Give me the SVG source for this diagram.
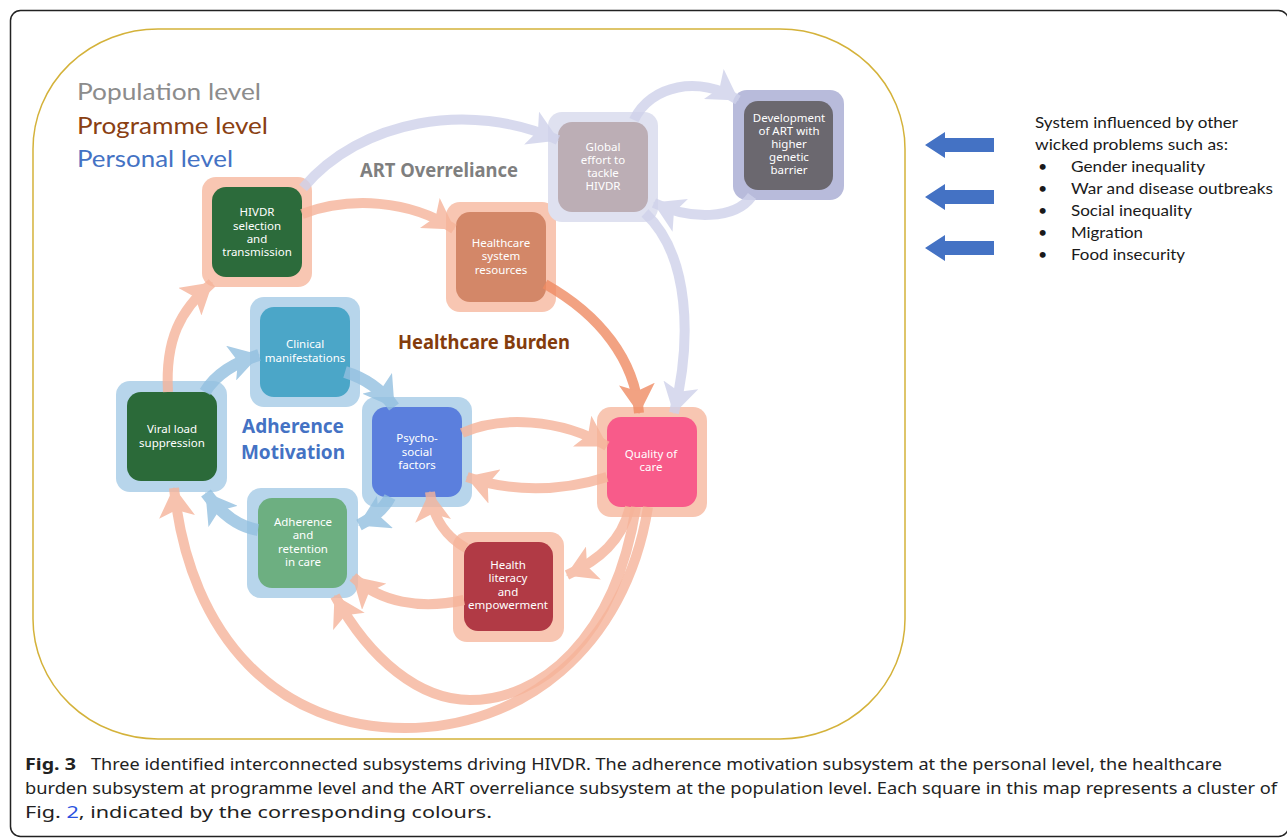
<svg xmlns="http://www.w3.org/2000/svg" width="1287" height="839" viewBox="0 0 1287 839">
<style>
.lvl{font-family:"Lato","Noto Sans",sans-serif;font-size:24px}
.sub{font-family:"Noto Sans","DejaVu Sans",sans-serif;font-weight:bold;font-size:19px}
.nt{font-family:"Noto Sans","DejaVu Sans",sans-serif;font-size:11.5px;fill:#fff;text-anchor:middle}
.rt{font-family:"Lato","Noto Sans",sans-serif;font-size:16px;fill:#1a1a1a}
.cap{font-family:"Noto Sans","DejaVu Sans",sans-serif;font-size:16px;fill:#222}
.c{opacity:0.8}
.pe{fill:none;stroke:#f6b49a;stroke-width:10}
.pd{fill:none;stroke:#f08b63;stroke-width:10}
.lv{fill:none;stroke:#cfd2eb;stroke-width:10}
.bl{fill:none;stroke:#93c0e0;stroke-width:12}
.hp{fill:#f8c6b2}
.hl{fill:#dfe1f0}
.hb{fill:#b7d5eb}
</style>
<defs>
<marker id="mpe" viewBox="0 0 30 36" refX="29" refY="18" markerWidth="30" markerHeight="36" markerUnits="userSpaceOnUse" orient="auto"><path d="M0,0 L30,18 L0,36 L7,18 z" fill="#f6b49a"/></marker>
<marker id="mpd" viewBox="0 0 30 36" refX="29" refY="18" markerWidth="30" markerHeight="36" markerUnits="userSpaceOnUse" orient="auto"><path d="M0,0 L30,18 L0,36 L7,18 z" fill="#f08b63"/></marker>
<marker id="mlv" viewBox="0 0 30 36" refX="29" refY="18" markerWidth="30" markerHeight="36" markerUnits="userSpaceOnUse" orient="auto"><path d="M0,0 L30,18 L0,36 L7,18 z" fill="#cfd2eb"/></marker>
<marker id="mbl" viewBox="0 0 30 36" refX="29" refY="18" markerWidth="30" markerHeight="36" markerUnits="userSpaceOnUse" orient="auto"><path d="M0,0 L30,18 L0,36 L7,18 z" fill="#93c0e0"/></marker>
</defs>
<rect x="0" y="0" width="1287" height="839" fill="#fff"/>
<rect x="10.5" y="10.5" width="1278" height="826" rx="10" fill="none" stroke="#222" stroke-width="1.5"/>
<rect x="33" y="29" width="872" height="710" rx="125" ry="120" fill="none" stroke="#d4b23a" stroke-width="1.5"/>

<g id="legend">
<text class="lvl" x="77" y="100" fill="#8c8c8c" textLength="184" lengthAdjust="spacingAndGlyphs">Population level</text>
<text class="lvl" x="77" y="134" fill="#8a4012" textLength="191" lengthAdjust="spacingAndGlyphs">Programme level</text>
<text class="lvl" x="77" y="167" fill="#4472c4" textLength="156" lengthAdjust="spacingAndGlyphs">Personal level</text>
</g>
<g id="subsystem-labels">
<text class="sub" x="360" y="177" fill="#7f7f7f" textLength="158" lengthAdjust="spacingAndGlyphs">ART Overreliance</text>
<text class="sub" x="398" y="349" fill="#843c0c" textLength="172" lengthAdjust="spacingAndGlyphs">Healthcare Burden</text>
<text class="sub" x="293" y="433" fill="#4472c4" text-anchor="middle" font-size="20">Adherence</text>
<text class="sub" x="293" y="459" fill="#4472c4" text-anchor="middle" font-size="20">Motivation</text>
</g>

<g id="n-hivdr"><rect class="hp" x="202" y="177" width="110" height="110" rx="14"/><rect x="212" y="187" width="90" height="90" rx="14" fill="#2c6b3b"/>
<text class="nt" x="257" y="216">HIVDR</text><text class="nt" x="257" y="230">selection</text><text class="nt" x="257" y="243">and</text><text class="nt" x="257" y="256">transmission</text></g>
<g id="n-healthcare"><rect class="hp" x="446" y="202" width="110" height="110" rx="14"/><rect x="456" y="212" width="90" height="90" rx="14" fill="#d38768"/>
<text class="nt" x="501" y="247">Healthcare</text><text class="nt" x="501" y="260">system</text><text class="nt" x="501" y="274">resources</text></g>
<g id="n-global"><rect class="hl" x="548" y="112" width="110" height="110" rx="14"/><rect x="558" y="122" width="90" height="90" rx="14" fill="#bcaeb5"/>
<text class="nt" x="603" y="151">Global</text><text class="nt" x="603" y="164">effort to</text><text class="nt" x="603" y="177">tackle</text><text class="nt" x="603" y="190">HIVDR</text></g>
<g id="n-development"><rect x="733" y="90" width="111" height="110" rx="14" fill="#b8bbdb"/><rect x="744" y="101" width="89" height="89" rx="14" fill="#6b686f"/>
<text class="nt" x="789" y="122">Development</text><text class="nt" x="789" y="135">of ART with</text><text class="nt" x="789" y="148">higher</text><text class="nt" x="789" y="161">genetic</text><text class="nt" x="789" y="174">barrier</text></g>
<g id="n-clinical"><rect class="hb" x="250" y="297" width="110" height="110" rx="14"/><rect x="260" y="307" width="90" height="90" rx="14" fill="#4ba6c8"/>
<text class="nt" x="305" y="348">Clinical</text><text class="nt" x="305" y="362">manifestations</text></g>
<g id="n-viral"><rect class="hb" x="116" y="381" width="111" height="111" rx="14"/><rect x="127" y="392" width="90" height="89" rx="14" fill="#2b6a39"/>
<text class="nt" x="172" y="433">Viral load</text><text class="nt" x="172" y="447">suppression</text></g>
<g id="n-psycho"><rect class="hb" x="362" y="397" width="110" height="110" rx="14"/><rect x="372" y="407" width="90" height="90" rx="14" fill="#5b7fdd"/>
<text class="nt" x="417" y="442">Psycho-</text><text class="nt" x="417" y="456">social</text><text class="nt" x="417" y="469">factors</text></g>
<g id="n-adherence"><rect class="hb" x="247" y="488" width="111" height="110" rx="14"/><rect x="258" y="498" width="89" height="90" rx="14" fill="#6daf81"/>
<text class="nt" x="303" y="526">Adherence</text><text class="nt" x="303" y="539">and</text><text class="nt" x="303" y="553">retention</text><text class="nt" x="303" y="566">in care</text></g>
<g id="n-quality"><rect class="hp" x="597" y="407" width="110" height="110" rx="14"/><rect x="607" y="417" width="90" height="90" rx="14" fill="#f85b8a"/>
<text class="nt" x="651" y="458">Quality of</text><text class="nt" x="651" y="471">care</text></g>
<g id="n-literacy"><rect class="hp" x="453" y="532" width="111" height="110" rx="14"/><rect x="464" y="542" width="89" height="89" rx="14" fill="#b13a45"/>
<text class="nt" x="508" y="569">Health</text><text class="nt" x="508" y="582">literacy</text><text class="nt" x="508" y="596">and</text><text class="nt" x="508" y="609">empowerment</text></g>

<g id="connectors">
<g class="c"><path class="lv" d="M303,188 C360,120 470,100 558,140" marker-end="url(#mlv)"/></g>
<g class="c"><path class="lv" d="M634,120 C650,85 700,75 738,100" marker-end="url(#mlv)"/></g>
<g class="c"><path class="lv" d="M752,196 C735,220 690,220 654,203" marker-end="url(#mlv)"/></g>
<g class="c"><path class="lv" d="M645,213 C690,255 692,340 674,413" marker-end="url(#mlv)"/></g>
<g class="c"><path class="pe" d="M302,214 C350,196 410,200 454,229" marker-end="url(#mpe)"/></g>
<g class="c"><path class="pd" d="M545,284 C600,315 635,360 639,413" marker-end="url(#mpd)"/></g>
<g class="c"><path class="pe" d="M462,433 C500,416 560,418 607,446" marker-end="url(#mpe)"/></g>
<g class="c"><path class="pe" d="M607,477 C560,492 510,492 467,477" marker-end="url(#mpe)"/></g>
<g class="c"><path class="pe" d="M630,507 C622,540 600,560 567,575" marker-end="url(#mpe)"/></g>
<g class="c"><path class="pe" d="M466,548 C448,538 433,520 430,492" marker-end="url(#mpe)"/></g>
<g class="c"><path class="pe" d="M464,600 C420,610 380,602 353,577" marker-end="url(#mpe)"/></g>
<g class="c"><path class="pe" d="M636,507 C615,640 540,700 470,700 C420,700 370,660 335,596" marker-end="url(#mpe)"/></g>
<g class="c"><path class="pe" d="M648,507 C625,650 520,728 405,728 C280,728 190,640 174,488" marker-end="url(#mpe)"/></g>
<g class="c"><path class="pe" d="M168,392 C165,340 180,310 212,283" marker-end="url(#mpe)"/></g>
<g class="c"><path class="bl" d="M205,392 C215,375 235,362 259,355" marker-end="url(#mbl)"/></g>
<g class="c"><path class="bl" d="M345,372 C365,378 382,390 394,407" marker-end="url(#mbl)"/></g>
<g class="c"><path class="bl" d="M390,497 C385,507 375,517 359,525" marker-end="url(#mbl)"/></g>
<g class="c"><path class="bl" d="M258,530 C240,527 222,515 206,493" marker-end="url(#mbl)"/></g>
</g>

<g id="external-arrows" fill="#4472c4">
<path d="M925,145 L945,132 L945,138 L994,138 L994,152 L945,152 L945,158 z"/>
<path d="M925,197 L945,184 L945,190 L994,190 L994,204 L945,204 L945,210 z"/>
<path d="M925,248 L945,235 L945,241 L994,241 L994,255 L945,255 L945,261 z"/>
</g>
<g id="external-text">
<text class="rt" x="1035" y="128" textLength="203" lengthAdjust="spacingAndGlyphs">System influenced by other</text>
<text class="rt" x="1035" y="150" textLength="193" lengthAdjust="spacingAndGlyphs">wicked problems such as:</text>
<text class="rt" x="1038" y="172" font-size="13">•</text><text class="rt" x="1071" y="172" textLength="134" lengthAdjust="spacingAndGlyphs">Gender inequality</text>
<text class="rt" x="1038" y="194" font-size="13">•</text><text class="rt" x="1071" y="194" textLength="202" lengthAdjust="spacingAndGlyphs">War and disease outbreaks</text>
<text class="rt" x="1038" y="216" font-size="13">•</text><text class="rt" x="1071" y="216" textLength="121" lengthAdjust="spacingAndGlyphs">Social inequality</text>
<text class="rt" x="1038" y="238" font-size="13">•</text><text class="rt" x="1071" y="238" textLength="72" lengthAdjust="spacingAndGlyphs">Migration</text>
<text class="rt" x="1038" y="260" font-size="13">•</text><text class="rt" x="1071" y="260" textLength="114" lengthAdjust="spacingAndGlyphs">Food insecurity</text>
</g>

<g id="caption">
<text class="cap" x="25" y="770" font-weight="bold" textLength="51" lengthAdjust="spacingAndGlyphs">Fig. 3</text>
<text class="cap" x="91" y="770" textLength="1131" lengthAdjust="spacingAndGlyphs">Three identified interconnected subsystems driving HIVDR. The adherence motivation subsystem at the personal level, the healthcare</text>
<text class="cap" x="25" y="794" textLength="1252" lengthAdjust="spacingAndGlyphs">burden subsystem at programme level and the ART overreliance subsystem at the population level. Each square in this map represents a cluster of</text>
<text class="cap" x="25" y="818" textLength="467" lengthAdjust="spacingAndGlyphs">Fig. <tspan fill="#2a52e0">2</tspan>, indicated by the corresponding colours.</text>
</g>
</svg>
